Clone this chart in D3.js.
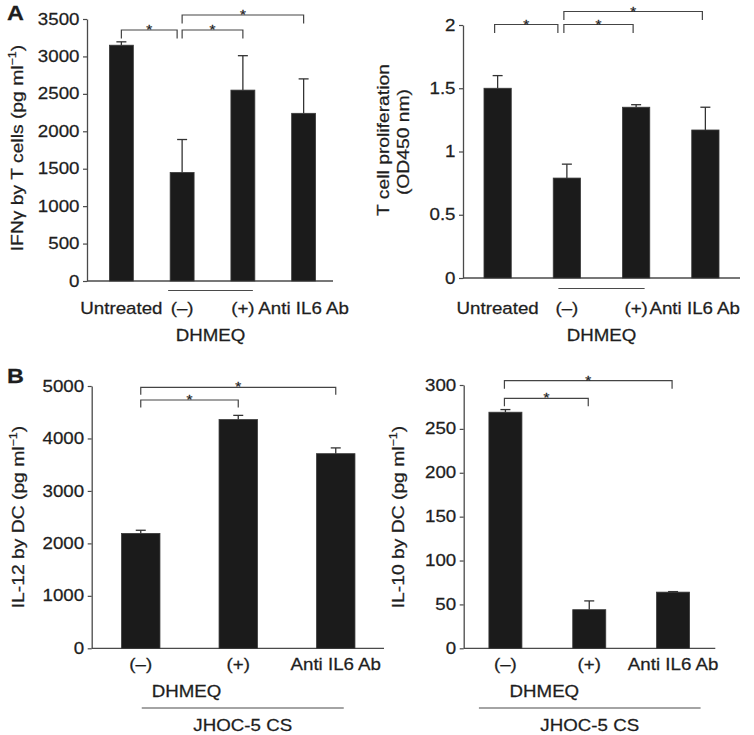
<!DOCTYPE html>
<html><head><meta charset="utf-8">
<script src="https://cdn.jsdelivr.net/npm/d3@7"></script>
<style>
html,body{margin:0;padding:0;background:#fff;}
svg text{font-family:"Liberation Sans",Arial,Helvetica,sans-serif;fill:#1e1e1e;stroke:#1e1e1e;stroke-width:0.25px;}
</style></head>
<body><svg id="c" width="754" height="735"></svg>
<script>
// ---------- data ----------
const catsA = ["Untreated", "(–)", "(+)", "Anti IL6 Ab"];
const ifngMean = [3150, 1450, 2550, 2240];
const ifngErr  = [45, 440, 460, 460];
const ifngTicks = [0, 500, 1000, 1500, 2000, 2500, 3000, 3500];

const prolifMean = [1.5, 0.79, 1.35, 1.17];
const prolifErr  = [0.1, 0.11, 0.02, 0.18];
const prolifTicks = [0, 0.5, 1, 1.5, 2];

const catsB = ["(–)", "(+)", "Anti IL6 Ab"];
const il12Mean = [2190, 4360, 3710];
const il12Err  = [60, 80, 110];
const il12Ticks = [0, 1000, 2000, 3000, 4000, 5000];

const il10Mean = [269, 44, 64];
const il10Err  = [3, 10, 0.6];
const il10Ticks = [0, 50, 100, 150, 200, 250, 300];

// significance brackets: [from index, to index, level]
const sigA = [[0, 1, 0], [1, 2, 0], [1, 3, 1]];
const sigB = [[0, 1, 0], [0, 2, 1]];

const treatment = "DHMEQ";
const supernatant = "JHOC-5 CS";

// ---------- drawing ----------
const SX = 1.17;
const svg = d3.select("#c");
svg.append("rect").attr("width", 754).attr("height", 735).attr("fill", "#fff");
const AX = "#4a4a4a";

function txt(g, x, y, s, anchor, size, rot) {
  return g.append("text")
    .attr("transform", `translate(${x},${y})${rot ? " rotate(" + rot + ")" : ""} scale(${SX},1)`)
    .attr("text-anchor", anchor || "middle")
    .attr("font-size", size || 16)
    .text(s);
}

function ylabel(g, x, y, main, unitSup, size) {
  const t = g.append("text")
    .attr("transform", `translate(${x},${y}) rotate(-90) scale(${SX},1)`)
    .attr("text-anchor", "middle").attr("font-size", size);
  t.append("tspan").text(main);
  if (unitSup) {
    t.append("tspan").attr("font-size", size * 0.65).attr("dy", -size * 0.42).text(unitSup);
    t.append("tspan").attr("font-size", size).attr("dy", size * 0.42).text(")");
  }
  return t;
}

function panel(cfg) {
  const g = svg.append("g");
  const x = d3.scaleBand().domain(cfg.cats).range(cfg.xr).paddingInner(0.606).paddingOuter(0.303);
  const y = d3.scaleLinear().domain([0, cfg.max]).range([cfg.y0, cfg.yTop]);
  const cx = i => x(cfg.cats[i]) + x.bandwidth() / 2;

  // y axis (line + ticks from d3 axis, labels drawn with widened text)
  const ax = g.append("g").attr("transform", `translate(${cfg.ax},0)`)
    .call(d3.axisLeft(y).tickValues(cfg.ticks).tickSize(4).tickSizeOuter(0).tickFormat(""));
  ax.select(".domain").attr("stroke", AX).attr("stroke-width", 1.3);
  ax.selectAll(".tick line").attr("stroke", AX).attr("stroke-width", 1.2);
  ax.selectAll(".tick text").remove();
  cfg.ticks.forEach(v => txt(g, cfg.ax - 7.5, y(v) + 5.6, String(v), "end", 16));

  // x axis line
  g.append("line").attr("x1", cfg.ax).attr("x2", cfg.xEnd)
    .attr("y1", y(0)).attr("y2", y(0)).attr("stroke", AX).attr("stroke-width", 1.3);

  // error bars (upper only)
  const eg = g.append("g").attr("stroke", "#333").attr("stroke-width", 1.3);
  cfg.mean.forEach((m, i) => {
    const c = cx(i), top = y(m + cfg.err[i]);
    eg.append("line").attr("x1", c).attr("x2", c).attr("y1", y(m)).attr("y2", top);
    eg.append("line").attr("x1", c - 5).attr("x2", c + 5).attr("y1", top).attr("y2", top);
  });

  // bars
  g.append("g").selectAll("rect").data(cfg.mean).join("rect")
    .attr("x", (d, i) => x(cfg.cats[i])).attr("width", x.bandwidth())
    .attr("y", d => y(d)).attr("height", d => y(0) - y(d))
    .attr("fill", "#1b1b1b").attr("stroke", "#3a3a3a").attr("stroke-width", 0.8);

  // significance brackets
  const starts = new Set(cfg.sig.map(s => s[0]));
  const bg = g.append("g");
  cfg.sig.forEach(([a, b, lvl]) => {
    const x1 = cx(a) + cfg.bShift;
    const x2 = cx(b) + cfg.bShift - (starts.has(b) ? cfg.bGap : 0);
    const top = cfg.bTop[lvl], bot = top + cfg.bLeg;
    bg.append("path")
      .attr("d", `M${x1},${bot}V${top}H${x2}V${bot}`)
      .attr("fill", "none").attr("stroke", "#444").attr("stroke-width", 1.2);
    txt(bg, (x1 + x2) / 2, top + 4, "*", "middle", 13);
  });

  // category labels
  cfg.cats.forEach((c, i) => {
    const t = txt(g, cx(i), cfg.labY, c, "middle", 16);
    const w = t.node().getComputedTextLength() * SX;
    if (cx(i) + w / 2 > cfg.labMax) {
      t.attr("transform", `translate(${cfg.labMax - w / 2},${cfg.labY}) scale(${SX},1)`);
    }
  });

  return { g, x, y, cx };
}

// Panel A left
const p1 = panel({
  cats: catsA, mean: ifngMean, err: ifngErr, ticks: ifngTicks, max: 3500,
  xr: [91, 334], ax: 87, xEnd: 333, y0: 281, yTop: 19,
  sig: sigA, bTop: [30, 15], bLeg: 8.5, bShift: 0, bGap: 5,
  labY: 313.5, labMax: 754
});
p1.g.append("line").attr("x1", p1.cx(1) - 14).attr("x2", p1.cx(2) + 10)
  .attr("y1", 290.5).attr("y2", 290.5).attr("stroke", AX).attr("stroke-width", 1.2);
txt(p1.g, (p1.cx(1) - 14 + p1.cx(2) + 10) / 2, 341, treatment);
ylabel(p1.g, 23, 148, "IFNγ by T cells (pg ml", "−1", 16.5);
txt(svg, 7, 20, "A", "start", 20).attr("font-weight", "bold");

// Panel A right
const p2 = panel({
  cats: catsA, mean: prolifMean, err: prolifErr, ticks: prolifTicks, max: 2,
  xr: [463, 740], ax: 463, xEnd: 740, y0: 278, yTop: 25,
  sig: sigA, bTop: [24.5, 11.5], bLeg: 8.5, bShift: -3, bGap: 6,
  labY: 314, labMax: 740
});
p2.g.append("line").attr("x1", p2.cx(1) - 8.5).attr("x2", p2.cx(2) + 8.5)
  .attr("y1", 288.5).attr("y2", 288.5).attr("stroke", AX).attr("stroke-width", 1.2);
txt(p2.g, (p2.cx(1) + p2.cx(2)) / 2, 341, treatment);
ylabel(p2.g, 389, 140, "T cell proliferation", null, 16.5);
ylabel(p2.g, 409, 142, "(OD450 nm)", null, 16.5);

// Panel B left
const p3 = panel({
  cats: catsB, mean: il12Mean, err: il12Err, ticks: il12Ticks, max: 5000,
  xr: [92, 384.5], ax: 91.7, xEnd: 384, y0: 648.3, yTop: 386,
  sig: sigB, bTop: [400, 387.3], bLeg: 7.5, bShift: 0, bGap: 0,
  labY: 670, labMax: 754
});
txt(p3.g, (p3.cx(0) + p3.cx(1)) / 2 - 3, 697, treatment);
p3.g.append("line").attr("x1", p3.cx(0) + 1).attr("x2", p3.cx(2) + 8)
  .attr("y1", 708).attr("y2", 708).attr("stroke", AX).attr("stroke-width", 1.2);
txt(p3.g, (p3.cx(0) + 1 + p3.cx(2) + 8) / 2, 731, supernatant);
ylabel(p3.g, 24, 517, "IL-12 by DC (pg ml", "−1", 16.5);
txt(svg, 7, 383, "B", "start", 20).attr("font-weight", "bold");

// Panel B right
const p4 = panel({
  cats: catsB, mean: il10Mean, err: il10Err, ticks: il10Ticks, max: 300,
  xr: [463.5, 715], ax: 463.7, xEnd: 715.3, y0: 648.3, yTop: 385,
  sig: sigB, bTop: [398.3, 380.7], bLeg: 8, bShift: -1, bGap: 0,
  labY: 670, labMax: 754
});
txt(p4.g, (p4.cx(0) + p4.cx(1)) / 2 - 3, 697, treatment);
p4.g.append("line").attr("x1", p4.cx(0) - 26.5).attr("x2", p4.cx(2) + 27.5)
  .attr("y1", 708).attr("y2", 708).attr("stroke", AX).attr("stroke-width", 1.2);
txt(p4.g, (p4.cx(0) - 26.5 + p4.cx(2) + 27.5) / 2, 731, supernatant);
ylabel(p4.g, 404, 517, "IL-10 by DC (pg ml", "−1", 16.5);
</script></body></html>
